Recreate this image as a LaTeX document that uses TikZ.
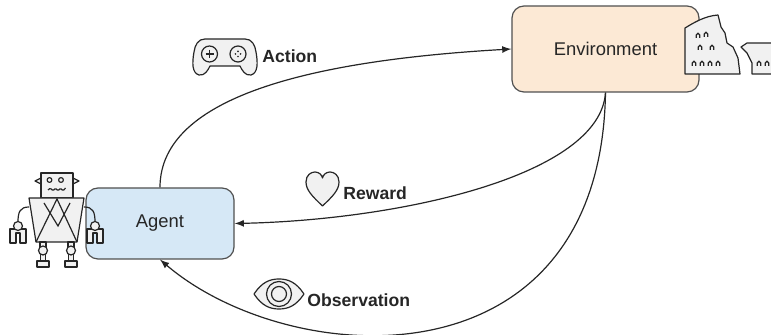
\documentclass[tikz,border=0pt]{standalone}
\usepackage{fontspec}
\setmainfont{Liberation Sans}
\usetikzlibrary{arrows,positioning}

\definecolor{envfill}{HTML}{FCE9D5}
\definecolor{agentfill}{HTML}{D6E8F6}
\definecolor{boxline}{HTML}{505050}
\definecolor{iconfill}{HTML}{F1F1F1}
\definecolor{inkgray}{HTML}{262626}

\tikzset{
  box/.style={draw=boxline,line width=0.6pt,rounded corners=6pt,text=inkgray,
    font=\fontsize{9.2}{11}\selectfont},
  lbl/.style={anchor=west,inner sep=0pt,text=inkgray,
    font=\bfseries\fontsize{8.8}{10}\selectfont},
  flow/.style={-latex,line width=0.6pt,draw=inkgray},
  icon/.style={draw=inkgray,fill=iconfill,line width=0.6pt,line join=round},
}

\begin{document}
\begin{tikzpicture}[x=0.5pt,y=-0.5pt]
	\useasboundingbox (0,0) rectangle (771,335);
	\node[box,fill=agentfill,minimum width=74pt,minimum height=35.5pt] (agent) at (160,223.5) {Agent};
	\node[box,fill=envfill,minimum width=93.5pt,minimum height=43pt] (env) at (605.5,49) {Environment};

	\node[lbl] (act) at (262,56) {Action};
	\node[lbl] (rew) at (343,193) {Reward};
	\node[lbl] (obs) at (307,300) {Observation};

	\draw[flow] (agent.north) .. controls +(0,-93) and +(-192,11) .. (env.west);
	\draw[flow] (env.south) .. controls +(-5.5,83) and +(166,-3.5) .. (agent.east);
	\draw[flow] (env.south) .. controls +(-5,298) and +(130,111) .. (agent.south);

	% robot
	\draw[icon,fill=none] (29,207) .. controls (20,207) and (18,212) .. (18,222);
	\draw[icon,fill=none] (84,207) .. controls (93,207) and (95,212) .. (95,222);
	\filldraw[icon] (41,178) -- (35,181) -- (41,184) -- cycle;
	\filldraw[icon] (73,178) -- (79,181) -- (73,184) -- cycle;
	\filldraw[icon] (41,173) rectangle (73,198);
	\draw[icon] (49.5,180) circle (2.4);
	\draw[icon] (61,180) circle (2.4);
	\draw[inkgray,line width=0.6pt,rounded corners=0.6pt] (48,190) -- (50.5,188) -- (53,191) -- (55.5,188) -- (58,191) -- (60.5,188) -- (63,191) -- (65.5,188);
	\filldraw[icon] (29,198) -- (84,198) -- (77,242) -- (36,242) -- cycle;
	\draw[inkgray,line width=0.6pt] (36,242) -- (57,199) -- (77,242);
	\draw[inkgray,line width=0.6pt] (44,203) -- (58,226) -- (70,203);
	\foreach \lx in {43,71} {
		\filldraw[icon] (\lx-3,242) rectangle (\lx+3,247);
		\filldraw[icon] (\lx-2.5,254) rectangle (\lx+2.5,261);
		\filldraw[icon] (\lx,250.5) circle (4.5);
		\filldraw[icon] (\lx-6,261) rectangle (\lx+6,267);
	}
	\foreach \hx in {18,95} {
		\filldraw[icon] (\hx-8,229) -- (\hx-8,243) -- (\hx-2,243) -- (\hx-2,233) -- (\hx+2,233) -- (\hx+2,243) -- (\hx+8,243) -- (\hx+8,229) -- cycle;
		\filldraw[icon] (\hx,226) circle (4.5);
	}

	% gamepad
	\filldraw[icon] (205,39) -- (245,39) .. controls (252,39) and (255,45) .. (256,52) .. controls (258,63) and (258,73) .. (251,75) .. controls (245,76) and (242,70) .. (240,66) -- (210,66) .. controls (208,70) and (205,76) .. (199,75) .. controls (192,73) and (192,63) .. (194,52) .. controls (195,45) and (198,39) .. (205,39) -- cycle;
	\draw[icon] (209.5,54) circle (8);
	\draw[icon] (238,54) circle (8);
	\draw[inkgray,line width=0.6pt] (205.5,54) -- (213.5,54) (209.5,50) -- (209.5,58);
	\foreach \dx/\dy in {-2.6/0,2.6/0,0/-2.6,0/2.6}
		\fill[inkgray] (238+\dx,54+\dy) circle (0.9);

	% heart
	\filldraw[icon] (322.5,206) .. controls (312,196) and (306,190) .. (306,182) .. controls (306,175) and (311,172) .. (315,172) .. controls (319,172) and (322,175) .. (322.5,178) .. controls (323,175) and (326,172) .. (330,172) .. controls (334,172) and (339,175) .. (339,182) .. controls (339,190) and (333,196) .. (322.5,206) -- cycle;

	% eye
	\filldraw[icon] (254,294) .. controls (262,282) and (270,279) .. (279,279) .. controls (288,279) and (296,282) .. (304,294) .. controls (296,306) and (288,309) .. (279,309) .. controls (270,309) and (262,306) .. (254,294) -- cycle;
	\draw[icon] (279,294) circle (12.5);
	\draw[icon] (279,294) circle (7.5);

	% ruins
	\filldraw[icon] (685,74) -- (685,28) .. controls (695,22) and (705,16) .. (718,15) -- (721,27) -- (725,33) -- (727,43) -- (733,47) -- (738,58) -- (740,74) -- cycle;
	\filldraw[icon] (741,47) -- (747,43) -- (780,43) -- (780,74) -- (752,74) -- (752,63) -- (747,53) -- cycle;
	\foreach \ax/\ay in {698/35,706/34,700/47,712/47,694/63,702/63,710/63,718/63,759/63,767/63}
		\draw[inkgray,line width=0.6pt] (\ax-1.8,\ay+3) -- (\ax-1.8,\ay) arc (180:360:1.8) -- (\ax+1.8,\ay+3);
\end{tikzpicture}
\end{document}
